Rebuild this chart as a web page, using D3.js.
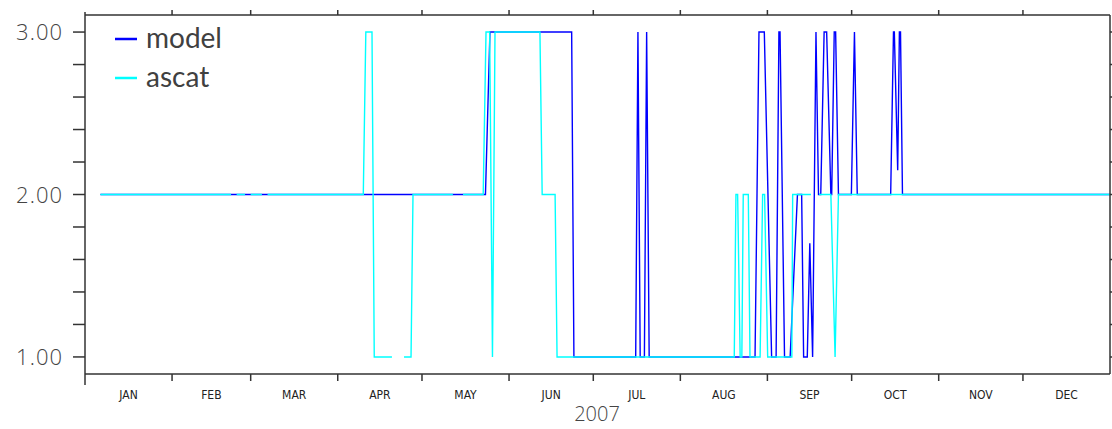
<!DOCTYPE html>
<html><head><meta charset="utf-8">
<script src="https://cdn.jsdelivr.net/npm/d3@7"></script>
<style>body{margin:0;background:#fff}svg{display:block}</style>
</head><body><svg id="c" width="1112" height="429"></svg>
<script>
// ---- data (day-of-year 2007, value) ----
const months = ["JAN","FEB","MAR","APR","MAY","JUN","JUL","AUG","SEP","OCT","NOV","DEC"];
const yearLabel = "2007";
const yLabelTicks = [1, 2, 3];
const seriesNames = ["model", "ascat"];
const seriesColors = ["#0000ff", "#00ffff"];

const modelDay = [5.5, 142.6, 144.2, 173.3, 174.1, 196.1, 196.9, 197.7, 199.2, 200.0, 200.9,
  238.6, 240.0, 241.9, 244.5, 246.1, 247.1, 247.5, 249.1,
  251.1, 253.7, 255.2, 255.9, 257.2, 258.1, 259.1,
  260.3, 261.2, 262.0, 263.2, 264.1, 265.6, 265.9, 266.8, 267.3, 268.3,
  272.9, 274.0, 275.0,
  286.9, 287.9, 288.2, 289.4, 290.0, 290.4, 291.1, 365];
const modelVal = [2, 2, 3, 3, 1, 1, 3, 1, 1, 3, 1,
  1, 3, 3, 1, 1, 3, 3, 1,
  1, 2, 2, 1, 1, 1.7, 1,
  3, 2, 2, 3, 3, 2, 2, 3, 3, 2,
  2, 3, 2,
  2, 3, 3, 2.15, 3, 3, 2, 2];

const ascatDay = [5.5, 52, 53, 54, 57, 58, 59, 63, 64, 65,
  99.1, 100, 102.2, 103, 109.3, 111.5, 113.6, 116.1, 116.8,
  131, 133, 134.6,
  141.8, 142.8, 144.1, 145.1, 146,
  162, 162.8, 167.4, 168.1,
  231.2, 231.8, 232.4, 233.3, 233.9, 234.4, 236.2, 236.8,
  240.4, 241.3, 242, 243.1,
  251.7, 252, 258.5, 260, 261.4, 265.6, 267.1, 268.3, 365];
const ascatVal = [2, 2, null, 2, 2, null, 2, 2, null, 2,
  2, 3, 3, 1, 1, null, 1, 1, 2,
  2, null, 2,
  2, 3, 3, 1, 3,
  3, 2, 2, 1,
  1, 2, 2, 1, 1, 2, 2, 1,
  1, 2, 2, 1,
  1, 2, 2, null, 2, 2, 1, 2, 2];

// ---- layout ----
const L = 85, R = 1110, T = 15, B = 374;
const t0 = Date.UTC(2007, 0, 1), t1 = Date.UTC(2008, 0, 1);
const dayToDate = d => new Date(t0 + d * 864e5);

const svg = d3.select("#c");
const x = d3.scaleUtc().domain([new Date(t0), new Date(t1)]).range([L, R]);
const y = d3.scaleLinear().domain([0.895, 3.105]).range([B, T]);

const axisColor = "#333";
const g = svg.append("g");

// series
const mk = (days, vals) => days.map((d, i) => ({ t: dayToDate(d), v: vals[i] }));
const line = d3.line().defined(d => d.v != null).x(d => x(d.t)).y(d => y(d.v));
const series = [mk(modelDay, modelVal), mk(ascatDay, ascatVal)];
series.forEach((s, i) => {
  g.append("path").datum(s).attr("d", line)
    .attr("fill", "none").attr("stroke", seriesColors[i])
    .attr("stroke-width", 1.4).attr("stroke-linejoin", "miter");
});

// frame
g.append("line").attr("x1", L).attr("x2", L).attr("y1", 12).attr("y2", 385).attr("stroke", axisColor).attr("stroke-width", 1.5);
g.append("line").attr("x1", L).attr("x2", R).attr("y1", B).attr("y2", B).attr("stroke", axisColor).attr("stroke-width", 1.5);
g.append("line").attr("x1", L).attr("x2", R).attr("y1", T).attr("y2", T).attr("stroke", axisColor).attr("stroke-width", 1.5);
g.append("line").attr("x1", R).attr("x2", R).attr("y1", T).attr("y2", B).attr("stroke", axisColor).attr("stroke-width", 1.5);

// month ticks
const monthStarts = d3.utcMonth.range(new Date(t0), new Date(t1)).slice(1);
monthStarts.forEach(m => {
  g.append("line").attr("x1", x(m)).attr("x2", x(m)).attr("y1", B).attr("y2", B + 7).attr("stroke", axisColor).attr("stroke-width", 1.5);
  g.append("line").attr("x1", x(m)).attr("x2", x(m)).attr("y1", T).attr("y2", T - 5).attr("stroke", axisColor).attr("stroke-width", 1.5);
});
// month labels
months.forEach((mName, i) => {
  const a = Date.UTC(2007, i, 1), b = Date.UTC(2007, i + 1, 1);
  g.append("text").attr("x", x(new Date((a + b) / 2))).attr("y", 399)
    .attr("text-anchor", "middle")
    .attr("font-family", "'Liberation Sans Narrow', 'DejaVu Sans Condensed', sans-serif")
    .attr("font-size", 12).attr("fill", "#222").text(mName);
});
g.append("text").attr("x", 597).attr("y", 421).attr("text-anchor", "middle")
  .attr("font-family", "'Open Sans', sans-serif").attr("font-weight", 300).attr("font-size", 20)
  .attr("fill", "#444").text(yearLabel);

// y ticks
const yMinor = d3.range(0, 11).map(i => 1 + i * 0.2);
yMinor.forEach(v => {
  g.append("line").attr("x1", L - 12).attr("x2", L).attr("y1", y(v)).attr("y2", y(v)).attr("stroke", axisColor).attr("stroke-width", 1.5);
  g.append("line").attr("x1", R).attr("x2", R + 4).attr("y1", y(v)).attr("y2", y(v)).attr("stroke", axisColor).attr("stroke-width", 1.5);
});
yLabelTicks.forEach(v => {
  g.append("text").attr("x", 63).attr("y", y(v) + 8).attr("text-anchor", "end")
    .attr("font-family", "'Open Sans', sans-serif").attr("font-weight", 300).attr("font-size", 22)
    .attr("fill", "#444").attr("letter-spacing", 1).text(d3.format(".2f")(v));
});

// legend
seriesNames.forEach((n, i) => {
  const ly = 39 + i * 39;
  g.append("line").attr("x1", 115).attr("x2", 137).attr("y1", ly).attr("y2", ly)
    .attr("stroke", seriesColors[i]).attr("stroke-width", 2.5);
  g.append("text").attr("x", 146).attr("y", ly + 9)
    .attr("font-family", "Lato, 'Open Sans', sans-serif").attr("font-size", 28)
    .attr("fill", "#404040").text(n);
});
</script>
</body></html>
